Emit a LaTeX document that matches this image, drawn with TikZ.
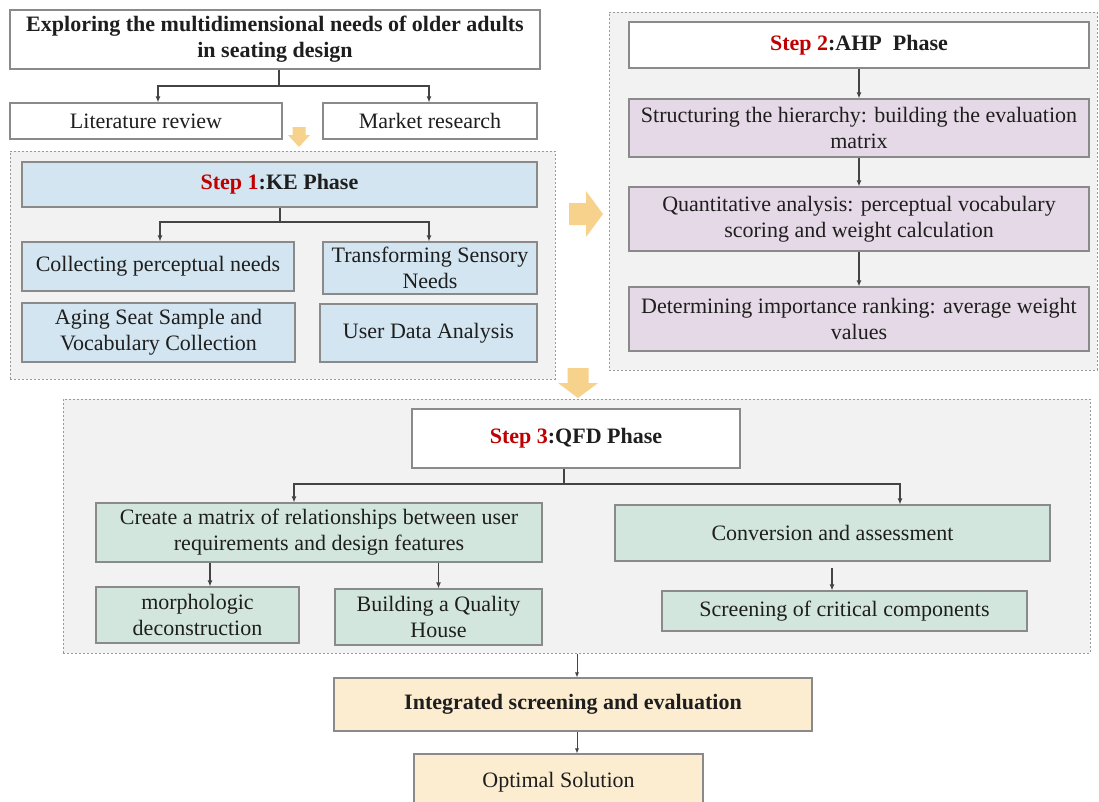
\documentclass[tikz,border=0pt]{standalone}
\usepackage{fontspec}
\setmainfont{Liberation Serif}
\usetikzlibrary{arrows.meta}
\definecolor{bluefill}{HTML}{D3E5F1}
\definecolor{purplefill}{HTML}{E6D9E7}
\definecolor{greenfill}{HTML}{D3E6DE}
\definecolor{yellowfill}{HTML}{FCEDD0}
\definecolor{yarrowc}{HTML}{F6D28C}
\definecolor{contfill}{HTML}{F2F2F2}
\definecolor{contline}{HTML}{9A9A9A}
\definecolor{boxline}{HTML}{8A8A8A}
\definecolor{conncol}{HTML}{444444}
\definecolor{stepred}{HTML}{C00000}
\definecolor{txt}{HTML}{1E1E1E}
\tikzset{
  box/.style={draw=boxline, line width=1.1pt, inner sep=0pt, align=center, text=txt},
  container/.style={draw=contline, fill=contfill, line width=1pt, dash pattern=on 2pt off 2pt, inner sep=0pt},
  line/.style={draw=conncol, line width=1.2pt},
  arr/.style={line, -{Latex[length=6pt,width=5pt]}},
  thinarr/.style={draw=conncol, line width=0.8pt, -{Latex[length=5pt,width=4pt]}},
  yarrow/.style={fill=yarrowc, draw=none}
}
\newcommand{\stepred}[1]{\textcolor{stepred}{#1}}
% \mkbox{name}{style}{x1}{y1}{x2}{y2}{text}
\newcommand{\mkbox}[7]{\node[#2, minimum width={#5-#3}, minimum height={#6-#4}] (#1) at ({(#3+#5)/2},{(#4+#6)/2}) {#7};}
\begin{document}
\begin{tikzpicture}[x=1pt,y=-1pt, font=\fontsize{22}{26}\selectfont]
\useasboundingbox (0,0) rectangle (1099,801);
\fill[white] (0,0) rectangle (1099,801);

% containers
\mkbox{c1}{container}{10}{151}{555}{379}{}
\mkbox{c2}{container}{609}{12}{1097}{370}{}
\mkbox{c3}{container}{63}{399}{1090}{653}{}

% top part
\mkbox{top}{box, fill=white}{10}{10}{540}{69}{\textbf{Exploring the multidimensional needs of older adults}\\\textbf{in seating design}}
\mkbox{lit}{box, fill=white}{10}{103}{282}{139}{Literature review}
\mkbox{market}{box, fill=white}{323}{103}{537}{139}{Market research}

% step 1
\mkbox{s1}{box, fill=bluefill}{22}{162}{537}{207}{\textbf{\stepred{Step 1}:KE Phase}}
\mkbox{collect}{box, fill=bluefill}{22}{242}{294}{291}{Collecting perceptual needs}
\mkbox{transf}{box, fill=bluefill}{323}{242}{537}{294}{Transforming Sensory\\Needs}
\mkbox{aging}{box, fill=bluefill}{22}{303}{295}{362}{Aging Seat Sample and\\Vocabulary Collection}
\mkbox{user}{box, fill=bluefill}{320}{304}{537}{362}{User Data Analysis}

% step 2
\mkbox{s2}{box, fill=white}{629}{22}{1089}{68}{\textbf{\stepred{Step 2}:AHP\ \ Phase}}
\mkbox{struct}{box, fill=purplefill}{629}{99}{1089}{157}{Structuring the hierarchy: building the evaluation\\matrix}
\mkbox{quant}{box, fill=purplefill}{629}{187}{1089}{251}{Quantitative analysis: perceptual vocabulary\\scoring and weight calculation}
\mkbox{determ}{box, fill=purplefill}{629}{287}{1089}{351}{Determining importance ranking: average weight\\values}

% step 3
\mkbox{s3}{box, fill=white}{412}{409}{740}{468}{\textbf{\stepred{Step 3}:QFD Phase}}
\mkbox{create}{box, fill=greenfill}{96}{503}{542}{562}{Create a matrix of relationships between user\\requirements and design features}
\mkbox{conv}{box, fill=greenfill}{615}{505}{1050}{561}{Conversion and assessment}
\mkbox{morph}{box, fill=greenfill}{96}{587}{299}{643}{morphologic\\deconstruction}
\mkbox{build}{box, fill=greenfill}{335}{589}{542}{645}{Building a Quality\\House}
\mkbox{screen}{box, fill=greenfill}{662}{591}{1027}{631}{Screening of critical components}

% bottom
\mkbox{integ}{box, fill=yellowfill}{334}{678}{812}{731}{\textbf{Integrated screening and evaluation}}
\mkbox{optimal}{box, fill=yellowfill}{414}{754}{703}{810}{Optimal Solution}

% connectors top
\coordinate (b0) at (279,86);
\draw[line] (top.south -| b0) -- (b0);
\draw[arr] (b0) -| ([xshift=12]lit.north);
\draw[arr] (b0) -| ([xshift=-1]market.north);

% connectors step 1
\coordinate (b1) at (280,222);
\draw[line] (s1.south -| b1) -- (b1);
\draw[arr] (b1) -| ([xshift=2]collect.north);
\draw[arr] (b1) -| ([xshift=-1]transf.north);

% connectors step 2
\draw[arr] (s2) -- (struct);
\draw[arr] (struct) -- (quant);
\draw[arr] (quant) -- (determ);

% connectors step 3
\coordinate (b3) at (564,484);
\draw[line] (s3.south -| b3) -- (b3);
\draw[arr] (b3) -| ([xshift=-25]create.north);
\draw[arr] (b3) -| ([xshift=67.5]conv.north);
\coordinate (km) at (210,0);
\draw[arr] (create.south -| km) -- (morph.north -| km);
\draw[arr] (create.south -| build.north) -- (build.north);
\coordinate (kc) at (832,0);
\draw[arr, shorten <=6pt] (conv.south -| kc) -- (screen.north -| kc);

% to bottom
\coordinate (kb) at (577,0);
\draw[thinarr] (c3.south -| kb) -- (integ.north -| kb);
\draw[thinarr] (integ.south -| kb) -- (optimal.north -| kb);

% yellow block arrows
\fill[yarrow] (292.5,127) -- (305.5,127) -- (305.5,135) -- (310,135) -- (299,147) -- (288,135) -- (292.5,135) -- cycle;
\fill[yarrow] (569,203) -- (586,203) -- (586,191) -- (603,214) -- (586,237) -- (586,225) -- (569,225) -- cycle;
\fill[yarrow] (567.5,368) -- (588.5,368) -- (588.5,383) -- (598,383) -- (578,398) -- (558,383) -- (567.5,383) -- cycle;
\end{tikzpicture}
\end{document}
